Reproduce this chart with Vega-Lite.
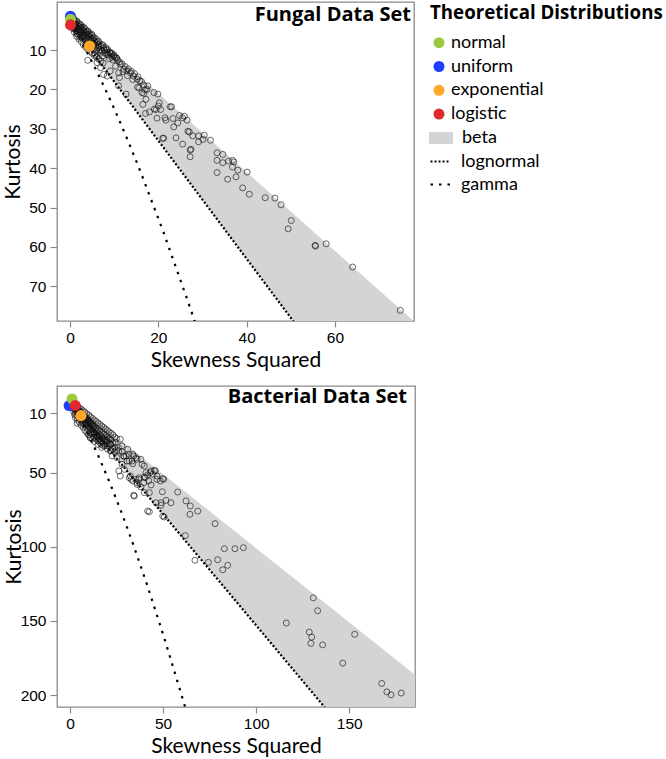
{
  "$schema": "https://vega.github.io/schema/vega-lite/v6.json",
  "padding": {"left": 2, "top": 1, "right": 0, "bottom": 0},
  "background": "white",
  "bounds": "flush",
  "spacing": 65,
  "config": {
    "view": {"stroke": "#8a8a8a", "strokeWidth": 1.3},
    "axis": {"grid": false, "domain": false, "tickColor": "#8a8a8a", "tickWidth": 1.2, "labelFont": "Liberation Sans", "labelFontSize": 15.5, "labelColor": "#000", "titleFont": "Lato", "titleFontSize": 21, "titleFontWeight": "normal", "titleColor": "#000"},
    "axisX": {"tickSize": 6, "labelPadding": 3, "titlePadding": 4},
    "axisY": {"tickSize": 7, "labelPadding": 4},
    "legend": {"padding": 0, "labelFont": "Lato", "labelFontSize": 18, "labelColor": "#000", "titleFont": "Open Sans", "titleFontWeight": "bold", "titleFontSize": 18.7, "titleColor": "#000", "titleLimit": 400, "rowPadding": 5.8},
    "title": {"font": "Open Sans", "fontWeight": "bold", "fontSize": 20, "color": "#000", "anchor": "end", "frame": "group", "orient": "top", "baseline": "alphabetic"}
  },
  "datasets": {
    "beta": [
      {"series": "beta", "x": 0, "y": 1, "y2v": 3},
      {"series": "beta", "x": 200, "y": 201, "y2v": 303}
    ],
    "lines": [
      {"series": "lognormal", "x": 0, "y": 3},
      {"series": "lognormal", "x": 140, "y": 213},
      {"series": "gamma", "x": 0, "y": 3},
      {"series": "gamma", "x": 0.465, "y": 3.838},
      {"series": "gamma", "x": 0.961, "y": 4.756},
      {"series": "gamma", "x": 2.048, "y": 6.85},
      {"series": "gamma", "x": 3.267, "y": 9.32},
      {"series": "gamma", "x": 4.624, "y": 12.21},
      {"series": "gamma", "x": 6.125, "y": 15.56},
      {"series": "gamma", "x": 7.776, "y": 19.43},
      {"series": "gamma", "x": 9.583, "y": 23.85},
      {"series": "gamma", "x": 11.552, "y": 28.88},
      {"series": "gamma", "x": 13.689, "y": 34.58},
      {"series": "gamma", "x": 16, "y": 41},
      {"series": "gamma", "x": 21.168, "y": 56.24},
      {"series": "gamma", "x": 27.104, "y": 75.11},
      {"series": "gamma", "x": 30.375, "y": 86.06},
      {"series": "gamma", "x": 33.856, "y": 98.13},
      {"series": "gamma", "x": 41.472, "y": 125.89},
      {"series": "gamma", "x": 50, "y": 159},
      {"series": "gamma", "x": 59.488, "y": 198.11},
      {"series": "gamma", "x": 62.016, "y": 208.9}
    ],
    "fungal_theo": [
      {"dist": "uniform", "x": 0.1, "y": 1.4},
      {"dist": "normal", "x": 0.1, "y": 2.2},
      {"dist": "logistic", "x": 0.1, "y": 3.6},
      {"dist": "exponential", "x": 4.4, "y": 9.0}
    ],
    "bact_theo": [
      {"dist": "uniform", "x": -0.5, "y": 4.8},
      {"dist": "normal", "x": 1.1, "y": 0.3},
      {"dist": "logistic", "x": 2.8, "y": 4.7},
      {"dist": "exponential", "x": 5.9, "y": 11.5}
    ],
    "fungal_obs": [
      {"x":0.1,"y":1.9},{"x":0.2,"y":2.2},{"x":0.3,"y":2.5},{"x":0.5,"y":2.1},{"x":0.4,"y":2.9},{"x":0.6,"y":3.1},{"x":0.8,"y":2.6},{"x":0.9,"y":3.4},{"x":1.0,"y":2.9},{"x":1.1,"y":3.8},
      {"x":1.3,"y":3.2},{"x":1.4,"y":4.1},{"x":1.6,"y":3.5},{"x":1.7,"y":4.4},{"x":1.9,"y":3.9},{"x":2.0,"y":4.8},{"x":2.2,"y":4.1},{"x":2.3,"y":5.2},{"x":2.5,"y":4.4},{"x":2.6,"y":5.5},
      {"x":2.8,"y":4.9},{"x":2.9,"y":5.9},{"x":3.1,"y":5.1},{"x":3.2,"y":6.3},{"x":3.4,"y":5.6},{"x":3.5,"y":6.6},{"x":3.7,"y":5.9},{"x":3.8,"y":7.0},{"x":4.0,"y":6.2},{"x":4.2,"y":7.4},
      {"x":4.4,"y":6.6},{"x":4.6,"y":7.8},{"x":4.8,"y":7.0},{"x":5.0,"y":8.2},{"x":5.2,"y":7.3},{"x":5.4,"y":8.6},{"x":5.6,"y":7.8},{"x":5.8,"y":9.0},{"x":6.0,"y":8.1},{"x":6.2,"y":9.4},
      {"x":6.5,"y":8.6},{"x":6.8,"y":9.9},{"x":7.0,"y":9.0},{"x":7.3,"y":10.3},{"x":7.6,"y":9.4},{"x":8.0,"y":10.8},{"x":8.3,"y":10.0},{"x":8.7,"y":11.3},{"x":9.0,"y":10.5},{"x":9.5,"y":11.8},
      {"x":0.7,"y":4.0},{"x":1.2,"y":4.8},{"x":1.8,"y":5.4},{"x":2.4,"y":6.2},{"x":3.0,"y":7.0},{"x":3.6,"y":7.8},{"x":0.3,"y":3.6},{"x":1.5,"y":5.9},{"x":2.7,"y":6.8},{"x":4.1,"y":8.5},
      {"x":0.5,"y":4.5},{"x":1.0,"y":5.5},{"x":1.5,"y":6.5},{"x":2.0,"y":7.2},{"x":2.5,"y":7.8},{"x":3.0,"y":8.6},{"x":3.5,"y":9.2},{"x":4.0,"y":9.8},{"x":4.5,"y":10.3},{"x":5.0,"y":10.8},
      {"x":5.5,"y":11.4},{"x":6.0,"y":11.8},{"x":6.5,"y":12.3},{"x":7.0,"y":12.8},{"x":7.5,"y":13.3},{"x":0.2,"y":1.5},{"x":0.5,"y":1.8},{"x":1.0,"y":2.3},{"x":1.5,"y":2.8},{"x":2.0,"y":3.3},
      {"x":2.5,"y":3.8},{"x":3.0,"y":4.3},{"x":3.5,"y":4.8},{"x":4.0,"y":5.3},{"x":4.5,"y":5.8},{"x":5.0,"y":6.3},{"x":5.5,"y":6.8},{"x":6.0,"y":7.3},{"x":6.5,"y":7.8},{"x":7.5,"y":8.8},
      {"x":8.5,"y":9.8},{"x":9.5,"y":10.8},{"x":10.0,"y":11.3},{"x":10.5,"y":12.0},
      {"x":0.3,"y":3.0},{"x":0.6,"y":3.8},{"x":0.9,"y":4.5},{"x":1.2,"y":3.5},{"x":1.4,"y":5.2},{"x":1.7,"y":5.8},{"x":2.1,"y":5.6},{"x":2.3,"y":6.8},{"x":2.6,"y":4.2},{"x":2.9,"y":6.4},
      {"x":3.3,"y":7.4},{"x":3.6,"y":5.3},{"x":3.9,"y":8.2},{"x":4.3,"y":6.0},{"x":4.5,"y":8.9},{"x":4.9,"y":7.6},{"x":5.1,"y":9.5},{"x":5.3,"y":6.9},{"x":5.7,"y":8.4},{"x":5.9,"y":10.1},
      {"x":6.3,"y":7.9},{"x":6.6,"y":9.2},{"x":6.9,"y":10.8},{"x":7.2,"y":8.6},{"x":7.4,"y":11.5},{"x":7.8,"y":10.0},{"x":8.1,"y":9.4},{"x":8.5,"y":10.6},{"x":8.9,"y":12.2},{"x":9.3,"y":11.0},
      {"x":9.7,"y":12.5},{"x":10.2,"y":11.8},{"x":10.8,"y":12.6},{"x":11.2,"y":13.0},{"x":0.8,"y":1.9},{"x":1.6,"y":2.7},{"x":2.4,"y":3.5},{"x":3.2,"y":4.3},{"x":4.1,"y":5.2},{"x":4.9,"y":6.0},
      {"x":4.0,"y":12.6},{"x":5.7,"y":11.1},{"x":6.5,"y":10.3},{"x":8.4,"y":11.1},{"x":9.1,"y":10.7},{"x":9.9,"y":11.5},{"x":10.6,"y":12.1},{"x":6.1,"y":13.2},{"x":6.9,"y":14.5},{"x":7.6,"y":16.2},
      {"x":8.4,"y":16.6},{"x":11.4,"y":13.6},{"x":12.2,"y":14.9},{"x":12.9,"y":15.3},{"x":13.7,"y":15.8},{"x":14.4,"y":16.6},{"x":15.2,"y":17.4},{"x":10.3,"y":14.1},{"x":11.0,"y":15.8},{"x":9.1,"y":15.3},
      {"x":15.6,"y":19.6},{"x":16.3,"y":20.8},{"x":17.4,"y":20.0},{"x":11.0,"y":19.1},{"x":11.2,"y":17.0},{"x":12.7,"y":21.2},{"x":15.3,"y":19.4},{"x":16.7,"y":18.9},{"x":17.0,"y":20.1},{"x":17.6,"y":19.1},
      {"x":16.7,"y":21.0},{"x":19.0,"y":20.8},{"x":19.9,"y":21.2},{"x":17.2,"y":22.5},{"x":16.5,"y":23.8},{"x":20.2,"y":23.4},{"x":20.0,"y":24.2},{"x":20.5,"y":25.1},{"x":19.5,"y":25.1},{"x":17.1,"y":26.1},
      {"x":18.0,"y":25.7},{"x":19.1,"y":25.0},{"x":22.7,"y":24.4},{"x":23.0,"y":24.4},{"x":19.7,"y":27.3},{"x":21.5,"y":27.2},{"x":21.7,"y":27.8},{"x":23.3,"y":27.4},{"x":24.8,"y":26.6},{"x":25.9,"y":26.8},
      {"x":26.5,"y":27.8},{"x":25.5,"y":27.2},{"x":24.4,"y":28.5},{"x":23.5,"y":29.5},{"x":26.7,"y":30.6},{"x":27.0,"y":30.8},{"x":27.8,"y":31.8},{"x":29.1,"y":31.8},{"x":30.4,"y":31.6},{"x":30.1,"y":32.7},
      {"x":29.1,"y":33.3},{"x":31.8,"y":32.9},{"x":21.0,"y":32.4},{"x":21.2,"y":32.4},{"x":24.0,"y":32.3},{"x":25.5,"y":33.9},{"x":27.4,"y":35.2},{"x":27.2,"y":35.4},{"x":27.2,"y":37.1},{"x":33.3,"y":36.1},
      {"x":34.6,"y":36.5},{"x":33.3,"y":38.0},{"x":34.6,"y":38.6},{"x":35.9,"y":38.2},{"x":36.8,"y":38.0},{"x":37.1,"y":38.4},{"x":36.8,"y":39.7},{"x":38.0,"y":40.5},{"x":40.1,"y":41.0},{"x":33.3,"y":41.1},
      {"x":35.7,"y":42.8},{"x":37.6,"y":42.2},{"x":39.1,"y":45.0},{"x":40.6,"y":46.6},{"x":44.2,"y":47.5},{"x":46.4,"y":47.6},{"x":47.8,"y":49.3},{"x":50.1,"y":53.3},{"x":49.4,"y":55.4},{"x":55.5,"y":59.6},
      {"x":55.6,"y":59.8},{"x":58.0,"y":59.2},{"x":64.0,"y":65.1},{"x":74.8,"y":76.1},
      {"x":11.8,"y":13.5},{"x":12.5,"y":14.2},{"x":13.2,"y":14.8},{"x":13.9,"y":15.4},{"x":14.6,"y":16.0},{"x":15.4,"y":16.8},{"x":12.0,"y":15.5},{"x":13.0,"y":16.5},{"x":14.2,"y":17.5},{"x":15.8,"y":17.8},{"x":16.2,"y":18.0}
    ],
    "bact_obs": [
      {"x":0.5,"y":2},{"x":1,"y":3},{"x":1.5,"y":3.5},{"x":2,"y":4},{"x":2.5,"y":5},{"x":3,"y":5.5},{"x":3.5,"y":6.5},{"x":4,"y":7},{"x":4.5,"y":7.5},{"x":5,"y":8.5},
      {"x":5.5,"y":9},{"x":6,"y":9.5},{"x":6.5,"y":10.5},{"x":7,"y":11},{"x":7.5,"y":11.5},{"x":8,"y":12.5},{"x":8.5,"y":13},{"x":9,"y":13.5},{"x":9.5,"y":14.5},{"x":10,"y":15},
      {"x":10.5,"y":15.5},{"x":11,"y":16.5},{"x":11.5,"y":17},{"x":12,"y":17.5},{"x":12.5,"y":18.5},{"x":13,"y":19},{"x":14,"y":20},{"x":15,"y":21},{"x":16,"y":22},{"x":17,"y":23},
      {"x":18,"y":24},{"x":19,"y":25},{"x":20,"y":26},{"x":21,"y":27},{"x":22,"y":28},{"x":1,"y":5},{"x":2,"y":6.5},{"x":3,"y":8},{"x":4,"y":9.5},{"x":5,"y":11},
      {"x":6,"y":12.5},{"x":7,"y":14},{"x":8,"y":15.5},{"x":9,"y":17},{"x":10,"y":18.5},{"x":11,"y":20},{"x":12,"y":21.5},{"x":13,"y":23},{"x":14,"y":24.5},{"x":15,"y":26},
      {"x":16,"y":27.5},{"x":17,"y":29},{"x":18,"y":30.5},{"x":2,"y":9},{"x":4,"y":12},{"x":6,"y":15},{"x":8,"y":18},{"x":10,"y":21},{"x":12,"y":24},{"x":14,"y":27},
      {"x":3,"y":13},{"x":7,"y":19.5},{"x":9,"y":23},{"x":11,"y":26.5},{"x":5,"y":16},{"x":13,"y":29},{"x":15,"y":31},{"x":17,"y":33},{"x":19,"y":32},{"x":20,"y":29},
      {"x":22,"y":31},{"x":23,"y":34},{"x":24,"y":33},{"x":25,"y":35},{"x":26,"y":33},{"x":28,"y":36},{"x":29,"y":39},
      {"x":1,"y":2.3},{"x":2,"y":3.3},{"x":3,"y":4.3},{"x":4,"y":5.3},{"x":5,"y":6.3},{"x":6,"y":7.3},{"x":7,"y":8.3},{"x":8,"y":9.3},{"x":9,"y":10.3},{"x":10,"y":11.3},
      {"x":11,"y":12.3},{"x":12,"y":13.5},{"x":13,"y":14.5},{"x":14,"y":15.5},{"x":15,"y":16.5},{"x":16,"y":17.5},{"x":17,"y":18.5},{"x":18,"y":19.5},{"x":19,"y":20.5},{"x":20,"y":21.5},
      {"x":21,"y":22.5},{"x":22,"y":23.5},{"x":23,"y":24.5},{"x":24,"y":26},{"x":25,"y":27},{"x":1.5,"y":6},{"x":2.5,"y":7.5},{"x":3.5,"y":9},{"x":4.5,"y":10.5},{"x":5.5,"y":12},
      {"x":6.5,"y":13.5},{"x":7.5,"y":15},{"x":8.5,"y":16.5},{"x":9.5,"y":18},{"x":10.5,"y":19.5},{"x":11.5,"y":21},{"x":12.5,"y":22.5},{"x":13.5,"y":24},{"x":14.5,"y":25.5},{"x":15.5,"y":27},
      {"x":16.5,"y":28.5},{"x":19,"y":28},{"x":21,"y":30},{"x":23,"y":30},{"x":18,"y":27},{"x":20,"y":32},{"x":24,"y":36},
      {"x":0.5,"y":3.5},{"x":1.5,"y":4.5},{"x":2.5,"y":6},{"x":3.5,"y":7.5},{"x":4.5,"y":9},{"x":5.5,"y":10.5},{"x":6.5,"y":12},{"x":7.5,"y":13},{"x":8.5,"y":14.5},{"x":9.5,"y":16},
      {"x":10.5,"y":17},{"x":11.5,"y":18.5},{"x":12.5,"y":20},{"x":13.5,"y":21},{"x":14.5,"y":22.5},{"x":15.5,"y":24},{"x":16.5,"y":25},{"x":17.5,"y":26.5},{"x":18.5,"y":28},{"x":19.5,"y":29.5},
      {"x":3,"y":10.5},{"x":5,"y":13.5},{"x":7,"y":17},{"x":9,"y":20},{"x":11,"y":23},{"x":13,"y":26},{"x":15,"y":28.5},{"x":17,"y":31},{"x":4,"y":14.5},{"x":6,"y":18},
      {"x":8,"y":21.5},{"x":10,"y":24.5},{"x":12,"y":27.5},{"x":2.5,"y":11},{"x":16,"y":30},{"x":18,"y":32},{"x":20,"y":34},{"x":22,"y":35},
      {"x":3.8,"y":16.7},{"x":10.9,"y":26.4},{"x":10.0,"y":24.1},{"x":12.7,"y":26.4},{"x":14.5,"y":25.3},{"x":16.3,"y":28.7},{"x":19.9,"y":27.5},{"x":21.6,"y":30.9},{"x":24.3,"y":29.8},{"x":27.0,"y":27.5},
      {"x":27.9,"y":32.0},{"x":26.2,"y":35.4},{"x":21.6,"y":35.4},{"x":22.6,"y":38.8},{"x":25.2,"y":39.9},{"x":28.8,"y":38.8},{"x":31.5,"y":37.6},{"x":34.2,"y":38.8},{"x":33.3,"y":42.2},{"x":36.0,"y":41.0},
      {"x":38.7,"y":44.4},{"x":30.6,"y":42.2},{"x":27.9,"y":44.4},{"x":26.2,"y":48.9},{"x":27.0,"y":52.3},{"x":32.4,"y":52.3},{"x":36.9,"y":54.5},{"x":40.4,"y":53.4},{"x":43.1,"y":50.0},{"x":45.8,"y":48.9},
      {"x":46.7,"y":52.3},{"x":50.3,"y":54.5},{"x":42.3,"y":55.6},{"x":39.6,"y":56.8},{"x":36.0,"y":56.8},
      {"x":31.0,"y":34.3},{"x":30.1,"y":38.8},{"x":33.7,"y":37.6},{"x":35.4,"y":39.9},{"x":38.1,"y":41.0},{"x":31.8,"y":42.2},{"x":33.7,"y":44.0},{"x":39.9,"y":45.5},{"x":29.2,"y":47.8},{"x":40.8,"y":50.0},
      {"x":43.5,"y":48.9},{"x":45.3,"y":48.4},{"x":44.4,"y":51.1},{"x":41.7,"y":51.6},{"x":39.9,"y":52.9},{"x":37.2,"y":53.4},{"x":35.4,"y":54.5},{"x":32.8,"y":54.5},{"x":31.8,"y":53.4},{"x":33.7,"y":55.6},
      {"x":36.0,"y":57.9},{"x":38.1,"y":59.7},{"x":43.5,"y":58.3},{"x":46.7,"y":54.5},{"x":48.5,"y":55.6},{"x":49.8,"y":54.1},{"x":49.6,"y":62.9},{"x":39.9,"y":63.5},{"x":42.6,"y":63.5},{"x":34.2,"y":65.3},
      {"x":57.8,"y":63.1},{"x":62.3,"y":69.1},{"x":64.6,"y":72.5},{"x":68.6,"y":75.9},{"x":64.4,"y":78.1},{"x":46.2,"y":70.3},{"x":48.9,"y":70.3},{"x":51.6,"y":68.7},{"x":48.9,"y":72.0},{"x":54.2,"y":70.3},
      {"x":42.6,"y":76.4},{"x":49.8,"y":79.3},{"x":50.6,"y":79.9},{"x":61.9,"y":92.5},{"x":67.1,"y":109.1},{"x":41.7,"y":75.9},{"x":34.5,"y":65.8},
      {"x":77.9,"y":84.4},{"x":82.9,"y":101.3},{"x":88.6,"y":101.3},{"x":93.1,"y":100.6},{"x":79.3,"y":108.7},{"x":74.3,"y":110.5},{"x":82.0,"y":115.5},{"x":84.7,"y":112.5},{"x":130.7,"y":134.4},{"x":133.0,"y":143.1},
      {"x":116.2,"y":151.4},{"x":128.5,"y":157.5},{"x":129.8,"y":160.9},{"x":129.4,"y":165.1},{"x":135.7,"y":166.1},{"x":152.9,"y":159.0},{"x":146.5,"y":178.4},{"x":167.4,"y":192.1},{"x":170.2,"y":197.8},{"x":172.4,"y":199.8},{"x":177.9,"y":198.6}
    ]
  },
  "vconcat": [
    {
      "width": 357,
      "height": 319,
      "title": {"text": "Fungal Data Set", "offset": -23, "dx": -3},
      "encoding": {
        "x": {"field": "x", "type": "quantitative", "scale": {"domain": [-2.95, 77.9], "nice": false, "zero": false}, "axis": {"title": "Skewness Squared", "values": [0, 20, 40, 60]}},
        "y": {"field": "y", "type": "quantitative", "scale": {"domain": [-2.2, 78.8], "reverse": true, "nice": false, "zero": false}, "axis": {"title": "Kurtosis", "values": [10, 20, 30, 40, 50, 60, 70], "titlePadding": 4.8}}
      },
      "layer": [
        {
          "data": {"name": "beta"},
          "mark": {"type": "area", "clip": true, "opacity": 1},
          "encoding": {
            "y2": {"field": "y2v"},
            "color": {"field": "series", "type": "nominal", "scale": {"domain": ["beta"], "range": ["#d4d4d4"]},
              "legend": {"title": null, "orient": "none", "legendX": 372, "legendY": 124, "symbolType": "M-1,-0.5H1V0.5H-1Z", "symbolSize": 576, "symbolStrokeWidth": 0, "labelOffset": 9}}
          }
        },
        {
          "data": {"name": "lines"},
          "mark": {"type": "line", "clip": true, "color": "#000", "strokeWidth": 2.2},
          "encoding": {
            "strokeDash": {"field": "series", "type": "nominal", "scale": {"domain": ["lognormal", "gamma"], "range": [[2, 2], [2.5, 6]]},
              "legend": {"title": null, "orient": "none", "legendX": 372, "legendY": 148, "rowPadding": 2, "symbolType": "stroke", "symbolSize": 400, "symbolStrokeWidth": 2.2, "symbolStrokeColor": "#000", "labelOffset": 9}}
          }
        },
        {
          "data": {"name": "fungal_obs"},
          "mark": {"type": "point", "filled": false, "color": "#111", "size": 36, "strokeWidth": 0.9}
        },
        {
          "data": {"name": "fungal_theo"},
          "mark": {"type": "point", "filled": true, "size": 121, "opacity": 1, "strokeWidth": 0},
          "encoding": {
            "fill": {"field": "dist", "type": "nominal", "scale": {"domain": ["normal", "uniform", "exponential", "logistic"], "range": ["#9bcb3c", "#1f3dff", "#ffa726", "#de2a2c"]},
              "legend": {"title": "Theoretical Distributions", "orient": "none", "legendX": 373, "legendY": 2, "symbolType": "circle", "symbolSize": 121, "symbolStrokeWidth": 0, "titlePadding": 11, "labelOffset": 3}}
          }
        }
      ]
    },
    {
      "width": 358,
      "height": 321,
      "title": {"text": "Bacterial Data Set", "offset": -21, "dx": -8},
      "encoding": {
        "x": {"field": "x", "type": "quantitative", "scale": {"domain": [-7, 185.3], "nice": false, "zero": false}, "axis": {"title": "Skewness Squared", "values": [0, 50, 100, 150]}},
        "y": {"field": "y", "type": "quantitative", "scale": {"domain": [-8.4, 208], "reverse": true, "nice": false, "zero": false}, "axis": {"title": "Kurtosis", "values": [10, 50, 100, 150, 200], "titlePadding": -3.9}}
      },
      "layer": [
        {
          "data": {"name": "beta"},
          "mark": {"type": "area", "clip": true, "opacity": 1},
          "encoding": {
            "y2": {"field": "y2v"},
            "color": {"field": "series", "type": "nominal", "scale": {"domain": ["beta"], "range": ["#d4d4d4"]},
              "legend": {"title": null, "orient": "none", "legendX": 372, "legendY": 124, "symbolType": "M-1,-0.5H1V0.5H-1Z", "symbolSize": 576, "symbolStrokeWidth": 0, "labelOffset": 9}}
          }
        },
        {
          "data": {"name": "lines"},
          "mark": {"type": "line", "clip": true, "color": "#000", "strokeWidth": 2.2},
          "encoding": {
            "strokeDash": {"field": "series", "type": "nominal", "scale": {"domain": ["lognormal", "gamma"], "range": [[2, 2], [2.5, 6]]},
              "legend": {"title": null, "orient": "none", "legendX": 372, "legendY": 148, "rowPadding": 2, "symbolType": "stroke", "symbolSize": 400, "symbolStrokeWidth": 2.2, "symbolStrokeColor": "#000", "labelOffset": 9}}
          }
        },
        {
          "data": {"name": "bact_obs"},
          "mark": {"type": "point", "filled": false, "color": "#111", "size": 36, "strokeWidth": 0.9}
        },
        {
          "data": {"name": "bact_theo"},
          "mark": {"type": "point", "filled": true, "size": 121, "opacity": 1, "strokeWidth": 0},
          "encoding": {
            "fill": {"field": "dist", "type": "nominal", "scale": {"domain": ["normal", "uniform", "exponential", "logistic"], "range": ["#9bcb3c", "#1f3dff", "#ffa726", "#de2a2c"]},
              "legend": {"title": "Theoretical Distributions", "orient": "none", "legendX": 373, "legendY": 2, "symbolType": "circle", "symbolSize": 121, "symbolStrokeWidth": 0, "titlePadding": 11, "labelOffset": 3}}
          }
        }
      ]
    }
  ],
  "resolve": {"scale": {"fill": "shared", "color": "shared", "strokeDash": "shared"}, "legend": {"fill": "shared", "color": "shared", "strokeDash": "shared"}}
}
